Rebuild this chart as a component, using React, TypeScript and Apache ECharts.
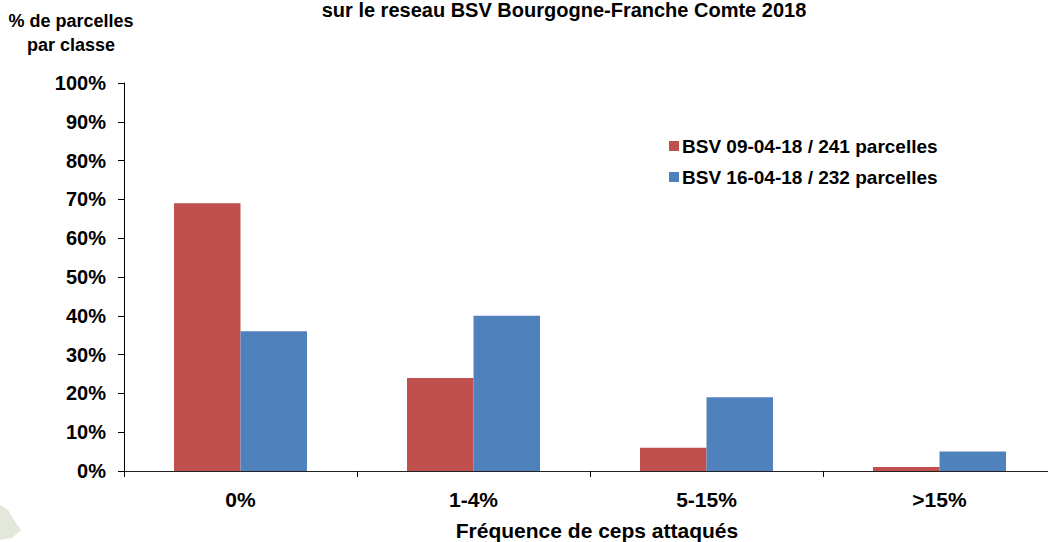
import React, { useEffect, useRef } from "react";
import * as echarts from "echarts";

const categories = ["0%", "1-4%", "5-15%", ">15%"];
const seriesNames = ["BSV 09-04-18 / 241 parcelles", "BSV 16-04-18 / 232 parcelles"];
const values0904 = [69, 24, 6, 1];
const values1604 = [36, 40, 19, 5];
const colors = ["#C0504D", "#4F81BD"];
const titleText = "sur le reseau BSV Bourgogne-Franche Comte 2018";
const yName = "% de parcelles\npar classe";
const xName = "Fréquence de ceps attaqués";

const FONT = "'Liberation Sans', Arial, sans-serif";

export default function App() {
  const ref = useRef<HTMLDivElement>(null);
  useEffect(() => {
    if (!ref.current) return;
    const chart = echarts.init(ref.current, null, { renderer: "svg" });
    chart.setOption({
      animation: false,
      backgroundColor: "#ffffff",
      textStyle: { fontFamily: FONT },
      grid: { left: 124, top: 83, width: 932, height: 388, containLabel: false },
      legend: {
        orient: "vertical",
        left: 664,
        top: 131,
        itemWidth: 10,
        itemHeight: 10,
        itemGap: 11,
        icon: "rect",
        data: seriesNames,
        textStyle: { fontSize: 19, fontWeight: "bold", color: "#000", fontFamily: FONT, lineHeight: 20, padding: [0, 0, 0, -2] },
      },
      xAxis: {
        type: "category",
        data: categories,
        axisLine: { lineStyle: { color: "#222", width: 1 } },
        axisTick: { show: true, alignWithLabel: false, length: 6, lineStyle: { color: "#000" } },
        axisLabel: { fontSize: 21, fontWeight: "bold", color: "#000", margin: 18, fontFamily: FONT },
        splitLine: { show: false },
      },
      yAxis: {
        type: "value",
        min: 0,
        max: 100,
        interval: 10,
        axisLine: { show: true, lineStyle: { color: "#000", width: 1 } },
        axisTick: { show: true, length: 6, lineStyle: { color: "#000" } },
        axisLabel: { formatter: "{value}%", fontSize: 20, fontWeight: "bold", color: "#000", margin: 18, fontFamily: FONT },
        splitLine: { show: false },
      },
      series: [
        {
          name: seriesNames[0],
          type: "bar",
          data: values0904,
          barWidth: 66.5,
          barGap: "0%",
          itemStyle: { color: colors[0] },
        },
        {
          name: seriesNames[1],
          type: "bar",
          data: values1604,
          barWidth: 66.5,
          barGap: "0%",
          itemStyle: { color: colors[1] },
        },
      ],
      graphic: [
        {
          type: "text",
          x: 564,
          y: 0,
          style: {
            text: titleText,
            textAlign: "center",
            textVerticalAlign: "top",
            font: `bold 20px ${FONT}`,
            fill: "#000",
          },
        },
        {
          type: "text",
          x: 71,
          y: 9,
          style: {
            text: yName,
            textAlign: "center",
            textVerticalAlign: "top",
            font: `bold 18px ${FONT}`,
            lineHeight: 24,
            fill: "#000",
          },
        },
        {
          type: "text",
          x: 597,
          y: 520,
          style: {
            text: xName,
            textAlign: "center",
            textVerticalAlign: "top",
            font: `bold 21px ${FONT}`,
            fill: "#000",
          },
        },
        {
          type: "polygon",
          shape: { points: [[0, 505], [8, 510], [14, 520], [21, 530], [12, 538], [0, 540]] },
          style: { fill: "#e4e8da" },
          silent: true,
        },
      ],
    });
    return () => chart.dispose();
  }, []);
  return (
    <div
      style={{ position: "absolute", left: 0, top: 0, width: 1048, height: 542, overflow: "hidden" }}
    >
      <div ref={ref} style={{ width: 1064, height: 542 }} />
    </div>
  );
}
